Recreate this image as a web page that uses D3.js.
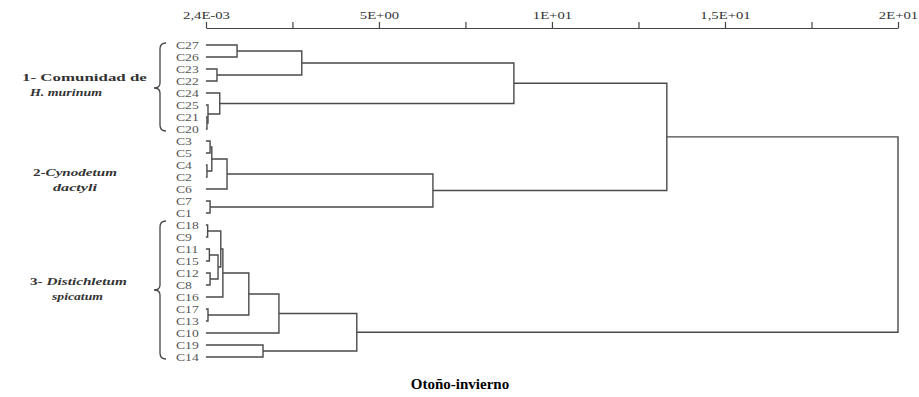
<!DOCTYPE html>
<html><head><meta charset="utf-8">
<script src="https://cdn.jsdelivr.net/npm/d3@7"></script>
<style>body{margin:0;background:#fff}svg{display:block}</style>
</head><body>
<svg id="c" width="919" height="397"></svg>
<script>
// leaf order top to bottom
const leaves = ["C27","C26","C23","C22","C24","C25","C21","C20",
                "C3","C5","C4","C2","C6","C7","C1",
                "C18","C9","C11","C15","C12","C8","C16","C17","C13","C10","C19","C14"];
// merges: [id, left, right, height]
const merges = [
  ["m1","C27","C26",0.90],["m2","C23","C22",0.32],["m3","m1","m2",2.77],
  ["m4","C21","C20",0.03],["m5","C25","m4",0.06],["m6","C24","m5",0.40],["m7","m3","m6",8.90],
  ["n1","C3","C5",0.12],["n2","C4","C2",0.03],["n3","n1","n2",0.17],["n4","n3","C6",0.61],
  ["n5","C7","C1",0.12],["n6","n4","n5",6.56],["t1","m7","n6",13.32],
  ["p1","C18","C9",0.05],["p2","C11","C15",0.10],["p3","C12","C8",0.12],["p4","p2","p3",0.35],
  ["p5","p1","p4",0.43],["p6","p5","C16",0.49],["p7","C17","C13",0.06],["p8","p6","p7",1.24],
  ["p9","p8","C10",2.11],["p10","C19","C14",1.65],["p11","p9","p10",4.36],["root","t1","p11",20.0]
];
const tickVals = [0.0024,2.5,5,7.5,10,12.5,15,17.5,20];
const tickLabels = ["2,4E-03","","5E+00","","1E+01","","1,5E+01","","2E+01"];
const groupLabels = [
  [[["1- Comunidad de",false]],[["H. murinum",true]]],
  [[["2-",false],["Cynodetum",true]],[["dactyli",true]]],
  [[["3- ",false],["Distichletum",true]],[["spicatum",true]]]
];
const title = "Otoño-invierno";

const FONT = "'Liberation Serif','Times New Roman',serif";
const svg = d3.select("#c");
const x = d3.scaleLinear().domain([0.0024,20]).range([206,898]);
const y = d3.scalePoint().domain(leaves).range([45,357]);

// axis
const ax = svg.append("g").attr("transform","translate(0,28)")
  .call(d3.axisTop(x).tickValues(tickVals).tickSize(6).tickSizeOuter(0)
    .tickFormat((d,i)=>tickLabels[i]));
ax.selectAll("path,line").attr("stroke","#444").attr("stroke-width",1.2);
ax.selectAll("text").attr("font-family",FONT).attr("font-size",10.5)
  .attr("fill","#333").attr("transform","scale(1.4,1)");

// dendrogram
const pos = {};
leaves.forEach(l=>pos[l]={y:y(l),h:0});
const g = svg.append("g").attr("fill","none").attr("stroke","#4a4a4a").attr("stroke-width",1.4);
merges.forEach(([id,a,b,h])=>{
  const A=pos[a],B=pos[b];
  pos[id]={y:(A.y+B.y)/2,h:h};
  g.append("path").attr("d",
    `M${A.h===0?x(0):x(A.h)},${A.y}H${x(h)}V${B.y}H${B.h===0?x(0):x(B.h)}`);
});

// leaf labels
svg.append("g").selectAll("text").data(leaves).join("text")
  .attr("transform",d=>`translate(176,${y(d)}) scale(1.3,1)`).attr("dy","0.35em")
  .attr("font-family",FONT).attr("font-size",10.5).attr("fill","#555").text(d=>d);

// braces
function brace(x0,y0,y1,ym){
  const w=6;
  return `M${x0+w},${y0} Q${x0},${y0} ${x0},${y0+6} L${x0},${ym-5} Q${x0},${ym} ${x0-w},${ym} Q${x0},${ym} ${x0},${ym+5} L${x0},${y1-6} Q${x0},${y1} ${x0+w},${y1}`;
}
svg.append("path").attr("d",brace(160,43,131,88)).attr("fill","none").attr("stroke","#444").attr("stroke-width",1.3);
svg.append("path").attr("d",brace(160,221,359,290)).attr("fill","none").attr("stroke","#444").attr("stroke-width",1.3);

// group labels: [x0,x1,baseline] per line
const glBox = [[[22,147,80.5],[30,102,96]],[[33,117,176],[53,97,191]],[[30,127,285],[52,103,300]]];
groupLabels.forEach((gl,i)=>{
  gl.forEach((line,j)=>{
    const [x0,x1,by] = glBox[i][j];
    const t = svg.append("text").attr("font-family",FONT)
      .attr("font-size",10.5).attr("font-weight","bold").attr("fill","#333");
    line.forEach(([s,it])=>t.append("tspan").attr("font-style",it?"italic":"normal").text(s));
    const w = t.node().getComputedTextLength();
    t.attr("transform",`translate(${x0},${by}) scale(${(x1-x0)/w},1)`);
  });
});

svg.append("text").attr("x",460).attr("y",389).attr("text-anchor","middle")
  .attr("font-family",FONT).attr("font-weight","bold").attr("font-size",15)
  .text(title);
</script>
</body></html>
